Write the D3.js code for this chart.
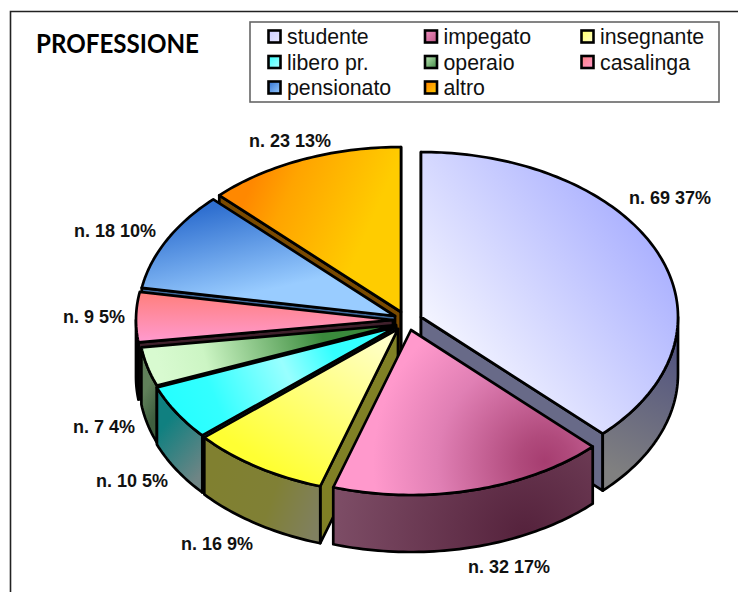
<!DOCTYPE html>
<html><head><meta charset="utf-8">
<script src="https://cdn.jsdelivr.net/npm/d3@7/dist/d3.min.js"></script>
<style>html,body{margin:0;padding:0;background:#fff}svg{display:block}</style>
</head><body><svg id="c" width="738" height="592"></svg>
<script>
const categories=["studente","impegato","insegnante","libero pr.","operaio","casalinga","pensionato","altro"];
const counts=[69,32,16,10,7,9,18,23];
const percents=[37,17,9,5,4,5,10,13];
const titleText="PROFESSIONE";

// layout only
const origins=[[421,317],[411,330],[398,329],[396,327],[396,325],[393,320],[395,316],[401,312]];
const labelPos=[[670,198],[509,567],[217,544],[132,481],[104,427],[94,317],[115,231],[290,141]];
const drawOrder=[0,7,6,5,4,3,2,1];
const RX=257,RY=165,DEPTH=57;

// top-face gradients: {l:[x1,y1,x2,y2]} (linear) or {r:[cx,cy,r]} (radial)
const topFill=[
 {l:[430,390,650,230],s:["#ffffff","#aab0ff"]},
 {r:[545,462,215],s:[[0,"#a63d70"],[.12,"#b04a7c"],[.5,"#e07fb4"],[.8,"#ff99cc"],[1,"#ff99cc"]]},
 {l:[290,480,385,335],s:["#ffff33","#ffffcc"]},
 {l:[165,420,330,345],s:[[0,"#22ffff"],[.3,"#33ffff"],[.72,"#99ffff"],[1,"#33ffff"]]},
 {l:[165,385,385,322],s:[[0,"#d8fad0"],[.2,"#ccf5c4"],[.72,"#3a8a3c"],[1,"#3a8a3c"]]},
 {l:[0,295,0,340],s:["#ff8080","#ff99cc"]},
 {l:[225,205,245,295],s:["#3070d0","#99ccff"]},
 {l:[255,175,370,225],s:[[0,"#ff8800"],[.3,"#ffa400"],[1,"#ffcc00"]]}
];
const wallFill=[
 {l:[680,330,610,470],s:["#4d4f80","#808080"]},
 {r:[525,535,200],s:[[0,"#55223c"],[1,"#7f4f68"]]},
 {l:[210,480,320,520],s:[[0,"#808030"],[.55,"#808035"],[1,"#808060"]]},
 {l:[160,430,205,470],s:["#108080","#6f8585"]},
 {l:[140,400,158,410],s:["#60805a","#3f5f3f"]},
 {l:[0,340,0,400],s:["#804060","#804060"]},
 {l:[0,280,0,340],s:["#306080","#306080"]},
 {l:[222,195,390,320],s:["#703000","#806000"]}
];
const radialFill=["#686a88","#804060","#808025","#1f8585","#2a4a2a","#40202c","#40689a","#7a4a00"];

const svg=d3.select("#c"), defs=svg.append("defs");
function grad(id,g){
 const el=g.l?defs.append("linearGradient").attr("x1",g.l[0]).attr("y1",g.l[1]).attr("x2",g.l[2]).attr("y2",g.l[3])
            :defs.append("radialGradient").attr("cx",g.r[0]).attr("cy",g.r[1]).attr("r",g.r[2]);
 el.attr("id",id).attr("gradientUnits","userSpaceOnUse");
 g.s.forEach((s,i)=>{const a=Array.isArray(s)?s:[i/(g.s.length-1),s];
   el.append("stop").attr("offset",a[0]).attr("stop-color",a[1]);});
}
topFill.forEach((g,i)=>grad("t"+i,g));
wallFill.forEach((g,i)=>grad("w"+i,g));

svg.append("path").attr("d","M10.5,592V11.5H738").attr("fill","none").attr("stroke","#222").attr("stroke-width",1.6);

const arcs=d3.pie().sort(null).value(d=>d)(counts);
const sx=d3.scaleLinear().domain([-1,1]).range([-RX,RX]);
const sy=d3.scaleLinear().domain([-1,1]).range([-RY,RY]);
const line=d3.line();
const pt=(i,a,dz=0)=>[origins[i][0]+sx(Math.sin(a)),origins[i][1]-sy(Math.cos(a))+dz];
const rim=(i,a0,a1,dz=0)=>{const n=Math.max(2,Math.ceil((a1-a0)/0.02));
  return d3.range(n+1).map(k=>pt(i,a0+(a1-a0)*k/n,dz));};

const stroke={stroke:"#000","stroke-width":2.7,"stroke-linejoin":"round"};
function draw(d,fill){const p=svg.append("path").attr("d",d).attr("fill",fill);
  Object.entries(stroke).forEach(([k,v])=>p.attr(k,v));return p;}

drawOrder.forEach(i=>{
 const a=arcs[i], o=origins[i];
 // only the cut faces that turn towards the viewer
 const faces=[];
 if(Math.sin(a.startAngle)<=1e-6) faces.push(a.startAngle);
 if(Math.sin(a.endAngle)>=-1e-6) faces.push(a.endAngle);
 faces.forEach(ang=>{
   const r=pt(i,ang);
   draw(line([o,r,[r[0],r[1]+DEPTH],[o[0],o[1]+DEPTH]])+"Z",radialFill[i]);
 });
 // outer wall (front half of the ellipse)
 const lo=Math.max(a.startAngle,Math.PI/2), hi=Math.min(a.endAngle,3*Math.PI/2);
 if(lo<hi){
   draw(line([...rim(i,lo,hi),...rim(i,lo,hi,DEPTH).reverse()])+"Z",`url(#w${i})`);
 }
 // top
 draw(line([o,...rim(i,a.startAngle,a.endAngle)])+"Z",`url(#t${i})`);
});

// data labels
svg.append("g").selectAll("text").data(categories).join("text")
 .attr("x",(d,i)=>labelPos[i][0]).attr("y",(d,i)=>labelPos[i][1]+6)
 .attr("text-anchor","middle").attr("font-family","Liberation Sans").attr("font-weight","bold")
 .attr("font-size",18).attr("fill","#111")
 .text((d,i)=>`n. ${counts[i]} ${percents[i]}%`);

// title
svg.append("text").attr("x",36).attr("y",53).attr("font-family","Lato").attr("font-size",26)
 .attr("textLength",163).attr("lengthAdjust","spacingAndGlyphs").attr("font-weight",700).text(titleText);

// legend
svg.append("rect").attr("x",250).attr("y",22).attr("width",469).attr("height",80)
 .attr("fill","#fff").attr("stroke","#666").attr("stroke-width",1.6);
const colX=d3.scalePoint().domain([0,1,2]).range([268,581]);
const rowY=d3.scalePoint().domain([0,1,2]).range([37,88]);
const swatchFill=[
 ["#ccccff","#e8e8ff"],["#f090c0","#c05888"],["#ffff66","#ffffcc"],["#33ffff","#b0ffff"],
 ["#c0e8b8","#408a44"],["#ff8080","#ff99cc"],["#3070d0","#99ccff"],["#ff8000","#ffcc00"]];
swatchFill.forEach((s,i)=>{
 const g=defs.append("linearGradient").attr("id","s"+i).attr("x1",0).attr("y1",0).attr("x2",1).attr("y2",1);
 g.append("stop").attr("offset",0).attr("stop-color",s[0]);
 g.append("stop").attr("offset",1).attr("stop-color",s[1]);
});
const leg=svg.append("g").selectAll("g").data(categories).join("g")
 .attr("transform",(d,i)=>`translate(${colX(i%3)},${rowY(Math.floor(i/3))})`);
leg.append("rect").attr("x",0.5).attr("y",-6.5).attr("width",12).attr("height",12)
 .attr("fill",(d,i)=>`url(#s${i})`).attr("stroke","#000").attr("stroke-width",2.6);
leg.append("text").attr("x",19).attr("y",7).attr("font-family","Liberation Sans").attr("font-size",21.3)
 .attr("fill","#111").text(d=>d);
</script></body></html>
